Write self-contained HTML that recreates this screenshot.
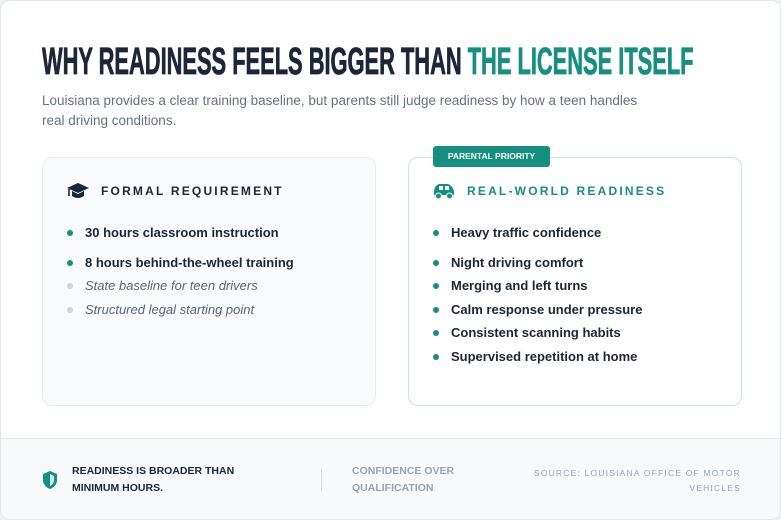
<!DOCTYPE html>
<html><head><meta charset="utf-8"><style>
*{margin:0;padding:0;box-sizing:border-box}
body{width:781px;height:520px;background:#eef1f4;font-family:"Liberation Sans",sans-serif;position:relative;overflow:hidden}
.card{position:absolute;left:0;top:0;width:781px;height:520px;background:#fff;border:1px solid #e3e7ec;border-radius:10px;overflow:hidden}
.abs{position:absolute;white-space:nowrap}
.title{left:41px;top:42px;font-size:38px;line-height:38px;font-weight:bold;color:#1c2638;transform:scaleX(0.575);transform-origin:left top;-webkit-text-stroke:0.8px #1c2638}
.title span{color:#15907f;-webkit-text-stroke:0.8px #15907f}
.sub{left:41px;top:90px;font-size:13.5px;color:#667085;line-height:20px;white-space:normal;width:612px}
.panel{position:absolute;top:156px;width:334px;height:249px;border-radius:10px}
.l{left:41px;background:#f8fafc;border:1px solid #e8ecf1}
.r{left:407px;background:#fff;border:1px solid #c9e4de}
.h{font-size:12px;font-weight:bold;letter-spacing:2.2px;top:183px}
.it{font-size:13px;font-weight:bold;color:#1c2638}
.it.i{font-weight:normal;font-style:italic;color:#5b6577}
.dot{position:absolute;width:6px;height:6px;border-radius:50%;background:#15907f}
.dot.g{background:#cfd6e0}
.badge{left:432px;top:145px;width:117px;height:21px;background:#15907f;border-radius:3px;color:#fff;font-size:8.5px;font-weight:bold;text-align:center;line-height:21px}
.foot{position:absolute;left:0;top:437px;width:781px;height:83px;background:#f7f9fb;border-top:1px solid #e3e7ec}
.ft{font-size:10.5px;font-weight:bold;line-height:17px;white-space:normal}
</style></head><body><div class="card">
<div class="abs title">WHY READINESS FEELS BIGGER THAN <span>THE LICENSE ITSELF</span></div>
<div class="abs sub">Louisiana provides a clear training baseline, but parents still judge readiness by how a teen handles real driving conditions.</div>
<div class="panel l"></div>
<div class="panel r"></div>
<div class="abs badge">PARENTAL PRIORITY</div>
<svg class="abs" style="left:65px;top:181px" width="24" height="18" viewBox="0 0 24 18"><path d="M12 1 L23 6 L12 11 L1 6Z" fill="#1c2638"/><path d="M6 9 V14 Q12 18 18 14 V9 L12 12Z" fill="#1c2638"/><path d="M3 7 V14" stroke="#1c2638" stroke-width="1.6"/></svg>
<div class="abs h" style="left:100px;color:#1c2638">FORMAL REQUIREMENT</div>
<svg class="abs" style="left:431px;top:181px" width="24" height="18" viewBox="0 0 24 18"><path d="M2 9 Q3 3 7 2 H16 Q20 3 22 9 V13 H2Z" fill="#15907f"/><rect x="7" y="4" width="4" height="4" fill="#fff"/><rect x="13" y="4" width="4" height="4" fill="#fff"/><circle cx="6.5" cy="14" r="3" fill="#15907f" stroke="#fff" stroke-width="1"/><circle cx="17.5" cy="14" r="3" fill="#15907f" stroke="#fff" stroke-width="1"/></svg>
<div class="abs h" style="left:466px;color:#15907f">REAL-WORLD READINESS</div>

<div class="dot" style="left:66px;top:229px"></div><div class="abs it" style="left:84px;top:224px">30 hours classroom instruction</div>
<div class="dot" style="left:66px;top:259px"></div><div class="abs it" style="left:84px;top:254px">8 hours behind-the-wheel training</div>
<div class="dot g" style="left:66px;top:282px"></div><div class="abs it i" style="left:84px;top:277px">State baseline for teen drivers</div>
<div class="dot g" style="left:66px;top:306px"></div><div class="abs it i" style="left:84px;top:301px">Structured legal starting point</div>

<div class="dot" style="left:432px;top:229px"></div><div class="abs it" style="left:450px;top:224px">Heavy traffic confidence</div>
<div class="dot" style="left:432px;top:259px"></div><div class="abs it" style="left:450px;top:254px">Night driving comfort</div>
<div class="dot" style="left:432px;top:282px"></div><div class="abs it" style="left:450px;top:277px">Merging and left turns</div>
<div class="dot" style="left:432px;top:306px"></div><div class="abs it" style="left:450px;top:301px">Calm response under pressure</div>
<div class="dot" style="left:432px;top:329px"></div><div class="abs it" style="left:450px;top:324px">Consistent scanning habits</div>
<div class="dot" style="left:432px;top:353px"></div><div class="abs it" style="left:450px;top:348px">Supervised repetition at home</div>

<div class="foot"></div>
<svg class="abs" style="left:41px;top:469px" width="16" height="20" viewBox="0 0 16 20"><path d="M8 1 L15 4 V10 Q15 16 8 19 Q1 16 1 10 V4Z" fill="#15907f"/><path d="M8 4 L12 6 V10 Q12 14 8 16Z" fill="#fff" opacity=".85"/></svg>
<div class="abs ft" style="left:71px;top:462px;width:200px;color:#1c2638">READINESS IS BROADER THAN MINIMUM HOURS.</div>
<div class="abs" style="left:320px;top:468px;width:1px;height:22px;background:#d8dde4"></div>
<div class="abs ft" style="left:351px;top:462px;width:140px;color:#9aa3af">CONFIDENCE OVER QUALIFICATION</div>
<div class="abs" style="left:500px;top:465px;width:240px;text-align:right;font-size:8.5px;letter-spacing:1.2px;color:#9aa3af;line-height:15px;white-space:normal">SOURCE: LOUISIANA OFFICE OF MOTOR VEHICLES</div>
</div></body></html>
